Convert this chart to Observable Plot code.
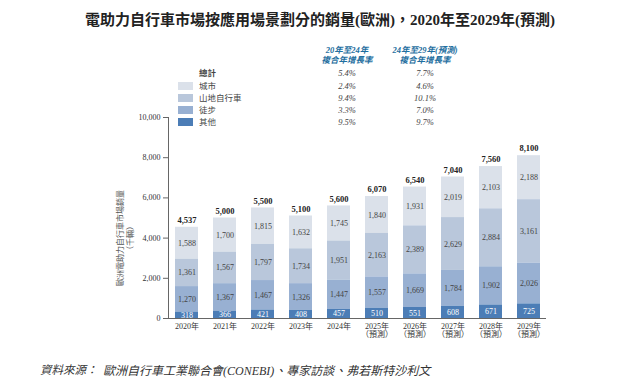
<!DOCTYPE html>
<html><head><meta charset="utf-8">
<script src="https://cdn.jsdelivr.net/npm/d3@7"></script>
<script src="https://cdn.jsdelivr.net/npm/@observablehq/plot@0.6"></script>
<style>
body{margin:0;background:#fff;}
#wrap{position:relative;width:640px;height:384px;overflow:hidden;font-family:"Liberation Serif","Noto Sans CJK TC",serif;color:#333;}
#wrap svg{position:absolute;left:0;top:0;}
.abs{position:absolute;white-space:nowrap;}
</style></head>
<body><div id="wrap"></div>
<script>
const years = ["2020年","2021年","2022年","2023年","2024年","2025年","2026年","2027年","2028年","2029年"];
const forecast = [false,false,false,false,false,true,true,true,true,true];
const categories = ["城市","山地自行車","徒步","其他"];
const colors = ["#dbe1ea","#b9c7db","#98b0d2","#4c7db6"];
const cityVals = [1588,1700,1815,1632,1745,1840,1931,2019,2103,2188];
const mtbVals = [1361,1567,1797,1734,1951,2163,2389,2629,2884,3161];
const walkVals = [1270,1367,1467,1326,1447,1557,1669,1784,1902,2026];
const otherVals = [318,366,421,408,457,510,551,608,671,725];
const totals = [4537,5000,5500,5100,5600,6070,6540,7040,7560,8100];
const cagr2024 = ["5.4%","2.4%","9.4%","3.3%","9.5%"];
const cagr2029 = ["7.7%","4.6%","10.1%","7.0%","9.7%"];
const yTicks = [0,2000,4000,6000,8000,10000];

const series = [cityVals, mtbVals, walkVals, otherVals];
const data = [];
categories.forEach((c,i)=>years.forEach((y,j)=>data.push({year:y, cat:c, value:series[i][j]})));
const totalData = years.map((y,j)=>({year:y, total:totals[j]}));
const order = ["其他","徒步","山地自行車","城市"];
const fmt = d3.format(",");
const font = '"Liberation Serif","Noto Sans CJK TC",serif';

const chart = Plot.plot({
  width:640, height:384,
  marginTop:117, marginBottom:66, marginLeft:168, marginRight:94,
  style:{fontFamily:font, fontSize:"8px", color:"#333", background:"transparent"},
  x:{domain:years, paddingInner:0.4, paddingOuter:0.145, label:null},
  y:{domain:[0,10000], label:null},
  color:{domain:categories, range:colors},
  marks:[
    Plot.barY(data, {x:"year", y:"value", fill:"cat", order}),
    Plot.text(data, Plot.stackY({x:"year", y:"value", z:"cat", order, text:d=>fmt(d.value),
      fill:d=>d.cat==="其他"?"#fff":"#444", fontSize:8})),
    Plot.text(totalData, {x:"year", y:"total", text:d=>fmt(d.total), dy:-7, fontWeight:"bold", fontSize:8.5, fill:"#222"}),
    Plot.axisY({ticks:yTicks, tickFormat:fmt, tickSize:5, tickPadding:3, fontSize:8, label:null, stroke:"#666"}),
    Plot.axisX({tickSize:0, tickPadding:5, fontSize:8, label:null,
      tickFormat:(d)=>forecast[years.indexOf(d)]? d+"\n（預測）" : d}),
    Plot.frame({anchor:"left", stroke:"#666"}),
    Plot.ruleY([0], {stroke:"#666"})
  ]
});
const wrap = document.getElementById("wrap");
wrap.appendChild(chart);

function add(html, css){const e=document.createElement("div");e.className="abs";e.innerHTML=html;Object.assign(e.style,css);wrap.appendChild(e);return e;}
add("電助力自行車市場按應用場景劃分的銷量(歐洲)，2020年至2029年(預測)",{left:"0",width:"640px",textAlign:"center",top:"8px",fontSize:"15px",fontWeight:"bold",color:"#222"});
// legend headers
const hdr={color:"#1f6fa0",fontStyle:"italic",fontWeight:"bold",fontSize:"8.5px",textAlign:"center",lineHeight:"10px",width:"100px"};
add("20年至24年<br>複合年增長率",Object.assign({left:"297px",top:"45px"},hdr));
add("24年至29年(預測)<br>複合年增長率",Object.assign({left:"375px",top:"45px"},hdr));
const rowY=[68,81,93,105,117];
const labels=["總計"].concat(categories);
labels.forEach((l,i)=>{
  add(l,{left:"199px",top:rowY[i]+"px",fontSize:"8.5px",lineHeight:"10px",fontWeight:i===0?"bold":"normal",color:"#444"});
  if(i>0){add("",{left:"178px",top:(rowY[i]+1)+"px",width:"15px",height:"8px",background:colors[i-1]});}
  add(cagr2024[i],{left:"317px",width:"60px",textAlign:"center",top:rowY[i]+"px",fontSize:"8.5px",lineHeight:"10px",fontStyle:"italic",color:"#444"});
  add(cagr2029[i],{left:"395px",width:"60px",textAlign:"center",top:rowY[i]+"px",fontSize:"8.5px",lineHeight:"10px",fontStyle:"italic",color:"#444"});
});
// y-axis title (rotated)
add("歐洲電助力自行車市場銷量<br>（千輛）",{left:"126px",top:"238px",fontSize:"8px",lineHeight:"10px",textAlign:"center",color:"#555",transform:"translate(-50%,-50%) rotate(-90deg)"});
// source
add("資料來源：",{left:"40px",top:"361px",fontSize:"11.5px",fontStyle:"italic",color:"#333"});
add("歐洲自行車工業聯合會(CONEBI)、專家訪談、弗若斯特沙利文",{left:"103px",top:"361px",fontSize:"12px",fontStyle:"italic",color:"#333"});
</script></body></html>
